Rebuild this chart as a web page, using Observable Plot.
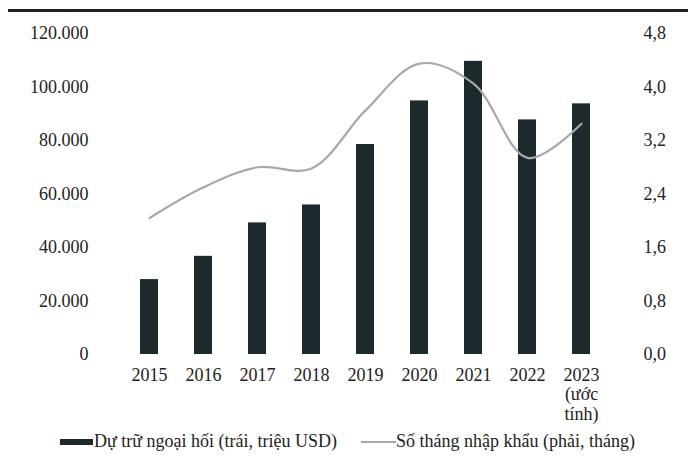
<!DOCTYPE html>
<html>
<head>
<meta charset="utf-8">
<script src="https://cdn.jsdelivr.net/npm/d3@7"></script>
<script src="https://cdn.jsdelivr.net/npm/@observablehq/plot@0.6"></script>
<style>
  body { margin: 0; background: #fff; font-family: "Liberation Serif", "Times New Roman", Times, "DejaVu Serif", serif; }
  #wrap { position: relative; width: 688px; height: 459px; overflow: hidden; }
  #rule { position: absolute; left: 8px; right: 0; top: 9px; height: 3px; background: #222; }
  #chart { position: absolute; left: 0; top: 0; }
  #legend { position: absolute; left: 60px; top: 431px; display: flex; align-items: center; font-size: 18px; color: #222; white-space: nowrap; font-family: "Liberation Serif", "Times New Roman", Times, "DejaVu Serif", serif; }
  .sw-bar { width: 33px; height: 6px; background: #1d2a2d; margin-right: 1px; }
  .sw-line { width: 35px; height: 2px; background: #a8a8a8; margin-left: 24px; }
  #chart svg, #chart svg text { font-family: "Liberation Serif", "Times New Roman", Times, "DejaVu Serif", serif !important; }
</style>
</head>
<body>
<div id="wrap">
  <div id="chart"></div>
  <div id="rule"></div>
  <div id="legend">
    <span class="sw-bar"></span><span>Dự trữ ngoại hối (trái, triệu USD)</span>
    <span class="sw-line"></span><span>Số tháng nhập khẩu (phải, tháng)</span>
  </div>
</div>
<script>
const years = ["2015", "2016", "2017", "2018", "2019", "2020", "2021", "2022", "2023"];
const yearLabels = ["2015", "2016", "2017", "2018", "2019", "2020", "2021", "2022", "2023\n(ước\ntính)"];
const reserves = [28000, 36700, 49200, 55900, 78500, 94800, 109600, 87700, 93700];
const importMonths = [2.04, 2.5, 2.8, 2.78, 3.65, 4.35, 4.05, 2.94, 3.45];
const leftTicks = [0, 20000, 40000, 60000, 80000, 100000, 120000];
const rightTickLabels = ["0,0", "0,8", "1,6", "2,4", "3,2", "4,0", "4,8"];
const leftMax = 120000, rightMax = 4.8;
const ratio = leftMax / rightMax;

const data = years.map((y, i) => ({year: y, reserve: reserves[i], months: importMonths[i]}));
const labelOf = new Map(years.map((y, i) => [y, yearLabels[i]]));
const rightLabelOf = new Map(leftTicks.map((t, i) => [t, rightTickLabels[i]]));
const fmtLeft = v => d3.format(",")(v).replace(/,/g, ".");

const chart = Plot.plot({
  width: 688,
  height: 428,
  marginTop: 33,
  marginBottom: 74,
  marginLeft: 102,
  marginRight: 61,
  style: {fontFamily: "'Liberation Serif', 'Times New Roman', serif", fontSize: "18px", color: "#222", background: "transparent"},
  x: {domain: years, padding: 0.675, align: 0.5},
  y: {domain: [0, leftMax]},
  marks: [
    Plot.barY(data, {x: "year", y: "reserve", fill: "#1d2a2d"}),
    Plot.line(data, {x: "year", y: d => d.months * ratio, stroke: "#a8a8a8", strokeWidth: 2.2, curve: "catmull-rom"}),
    Plot.axisX({tickSize: 0, tickPadding: 12, tickFormat: d => labelOf.get(d), lineHeight: 1.1, label: null, fontSize: 18}),
    Plot.axisY({anchor: "left", ticks: leftTicks, tickSize: 0, tickPadding: 14, tickFormat: fmtLeft, label: null, fontSize: 18}),
    Plot.axisY({anchor: "right", ticks: leftTicks, tickSize: 0, tickPadding: 16, tickFormat: t => rightLabelOf.get(t), textAnchor: "start", label: null, fontSize: 18})
  ]
});
document.getElementById("chart").appendChild(chart);
</script>
</body>
</html>
